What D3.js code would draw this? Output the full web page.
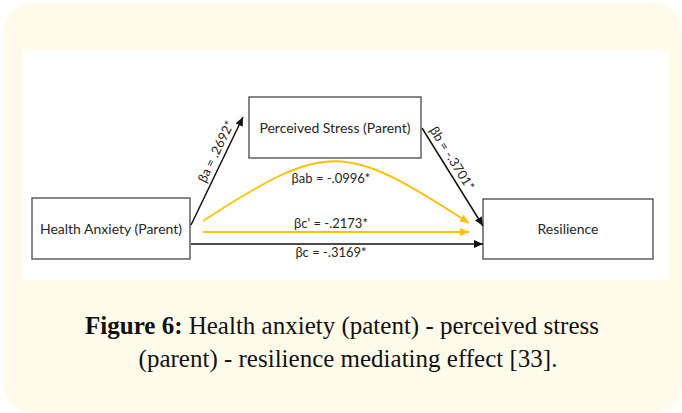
<!DOCTYPE html>
<html>
<head>
<meta charset="utf-8">
<script src="https://cdn.jsdelivr.net/npm/d3@7"></script>
<style>
  body { margin: 0; background: #fff; }
  svg { display: block; }
</style>
</head>
<body>
<div id="graph"></div>
<script>
// node labels of the mediation model
const nodeNames = ['Health Anxiety (Parent)', 'Perceived Stress (Parent)', 'Resilience']
// path coefficients
const pathNames = ['βa', 'βb', 'βab', "βc'", 'βc']
const pathCoefs = ['.2692*', '-.3701*', '-.0996*', '-.2173*', '-.3169*']
const captionBold = 'Figure 6:'
const captionLines = [' Health anxiety (patent) - perceived stress', '(parent) - resilience mediating effect [33].']

const width = 682, height = 413
const ink = '#262626', gold = '#ffc000'

// layout in diagram units (panel space), mapped through scales below
const boxes = [
  {x0: 9, x1: 167, y0: 148, y1: 209},
  {x0: 226, x1: 398, y0: 47, y1: 108},
  {x0: 460, x1: 630, y0: 149, y1: 209}
]
const xScale = d3.scaleLinear().domain([0, 646]).range([23, 669])
const yScale = d3.scaleLinear().domain([0, 230]).range([50, 280])

const svg = d3.select('#graph').append('svg')
  .attr('width', width)
  .attr('height', height)

svg.append('rect')
  .attr('x', 4).attr('y', 3)
  .attr('width', 678).attr('height', 410)
  .attr('rx', 28)
  .attr('fill', '#fffbea')

svg.append('rect')
  .attr('x', xScale(0)).attr('y', yScale(0))
  .attr('width', xScale(646) - xScale(0))
  .attr('height', yScale(230) - yScale(0))
  .attr('fill', '#ffffff')

const defs = svg.append('defs')
const marker = (id, col) => {
  defs.append('marker')
    .attr('id', id)
    .attr('markerUnits', 'userSpaceOnUse')
    .attr('markerWidth', 10).attr('markerHeight', 8)
    .attr('refX', 9).attr('refY', 4)
    .attr('orient', 'auto')
    .append('path')
    .attr('d', 'M0,0 L9,4 L0,8 Z')
    .attr('fill', col)
}
marker('headK', '#111')
marker('headY', gold)

// boxes
const node = svg.selectAll('g.node').data(nodeNames).enter().append('g').attr('class', 'node')
node.append('rect')
  .attr('x', (d, i) => xScale(boxes[i].x0))
  .attr('y', (d, i) => yScale(boxes[i].y0))
  .attr('width', (d, i) => xScale(boxes[i].x1) - xScale(boxes[i].x0))
  .attr('height', (d, i) => yScale(boxes[i].y1) - yScale(boxes[i].y0))
  .attr('fill', '#fff')
  .attr('stroke', '#555')
  .attr('stroke-width', 1.4)
node.append('text')
  .attr('x', (d, i) => xScale((boxes[i].x0 + boxes[i].x1) / 2))
  .attr('y', (d, i) => yScale((boxes[i].y0 + boxes[i].y1) / 2) + 5)
  .attr('text-anchor', 'middle')
  .attr('font-family', 'Lato')
  .attr('font-size', 14)
  .attr('fill', ink)
  .text(d => d)

// path geometry: a, b, ab (curve), c', c
const paths = [
  {p: [[168, 175], [220, 67]], col: '#111', w: 1.5, along: 17},
  {p: [[399, 78], [460, 176]], col: '#111', w: 1.5, along: -16},
  {p: [[180, 171], [305, 90], [321, 92], [446, 173]], col: gold, w: 1.8, curve: true},
  {p: [[180, 182], [446, 182]], col: gold, w: 2},
  {p: [[168, 194], [460, 194]], col: '#111', w: 1.6}
]
const toPx = pt => [xScale(pt[0]), yScale(pt[1])]
svg.selectAll('path.link').data(paths).enter().append('path')
  .attr('class', 'link')
  .attr('d', d => {
    const q = d.p.map(toPx)
    if (d.curve) return `M${q[0]}C${q[1]} ${q[2]} ${q[3]}`
    return d3.line()(q)
  })
  .attr('fill', 'none')
  .attr('stroke', d => d.col)
  .attr('stroke-width', d => d.w)
  .attr('marker-end', d => d.col === gold ? 'url(#headY)' : 'url(#headK)')

// rotated labels on a and b
const slanted = [0, 1].map(i => {
  const [s, e] = paths[i].p.map(toPx)
  const r = Math.atan2(e[1] - s[1], e[0] - s[0])
  const ux = Math.cos(r), uy = Math.sin(r)
  // text "up" direction after rotating by r
  const nx = Math.sin(r), ny = -Math.cos(r)
  const up = 5, along = paths[i].along
  const cx = (s[0] + e[0]) / 2 + ux * along + nx * up
  const cy = (s[1] + e[1]) / 2 + uy * along + ny * up
  return {i, ang: r * 180 / Math.PI, cx, cy}
})
svg.selectAll('text.slant').data(slanted).enter().append('text')
  .attr('class', 'slant')
  .attr('transform', d => `translate(${d.cx},${d.cy}) rotate(${d.ang})`)
  .attr('text-anchor', 'middle')
  .attr('font-family', 'Lato')
  .attr('font-size', 13)
  .attr('fill', ink)
  .text(d => `${pathNames[d.i]} = ${pathCoefs[d.i]}`)

// horizontal labels
const flatY = [133, 178, 207]
svg.selectAll('text.flat').data([2, 3, 4]).enter().append('text')
  .attr('class', 'flat')
  .attr('x', xScale(308))
  .attr('y', (d, k) => yScale(flatY[k]))
  .attr('text-anchor', 'middle')
  .attr('font-family', 'Lato')
  .attr('font-size', 13)
  .attr('fill', ink)
  .text(d => `${pathNames[d]} = ${pathCoefs[d]}`)

// caption
const cap = svg.append('g')
  .attr('font-family', 'Liberation Serif')
  .attr('font-size', 25)
  .attr('fill', '#111')
  .attr('text-anchor', 'middle')
const l1 = cap.append('text').attr('x', 342).attr('y', 334)
l1.append('tspan').attr('font-weight', 'bold').text(captionBold)
l1.append('tspan').text(captionLines[0])
cap.append('text').attr('x', 348).attr('y', 367).text(captionLines[1])
</script>
</body>
</html>
